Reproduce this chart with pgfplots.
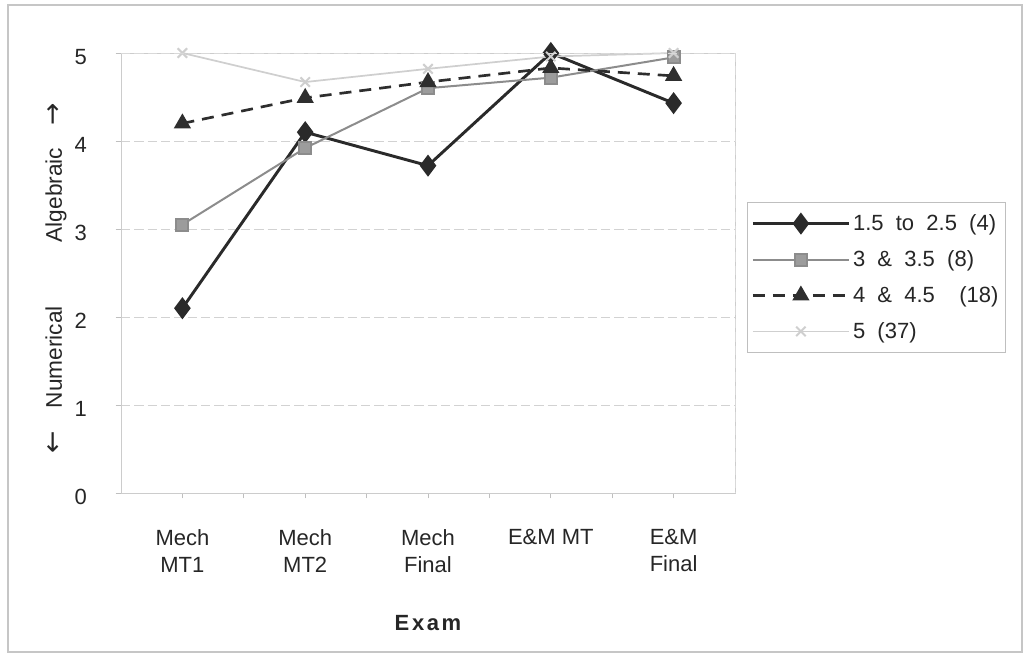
\documentclass[border=0pt]{standalone}
\usepackage{pgfplots}
\pgfplotsset{compat=1.18}
\usepackage{fontspec}
\setmainfont{Liberation Sans}
\newfontfamily\dejavu{DejaVu Sans}
\definecolor{ink}{HTML}{262626}
\definecolor{sone}{HTML}{2A2A2A}
\definecolor{stwo}{HTML}{8C8C8C}
\definecolor{stwofill}{HTML}{9C9C9C}
\definecolor{sthree}{HTML}{2E2E2E}
\definecolor{sfour}{HTML}{CFCFCF}
\begin{document}
\begin{tikzpicture}[x=0.75pt,y=0.75pt]
\useasboundingbox (0,0) rectangle (1029,660);
\draw[gray!45, line width=0.8pt] (8,8) rectangle (1022,655);
\begin{axis}[
  at={(90.75pt,125.25pt)}, anchor=south west,
  scale only axis, width=460.5pt, height=330pt,
  xmin=-0.5, xmax=4.5, ymin=0, ymax=5,
  xtick={0,1,2,3,4},
  xticklabels={{Mech\\MT1},{Mech\\MT2},{Mech\\Final},{E\&M MT},{E\&M\\Final}},
  minor xtick={0.5,1.5,2.5,3.5},
  ytick={0,1,2,3,4,5},
  ymajorgrids,
  major grid style={gray!35, dash pattern=on 7pt off 3pt, line width=0.6pt},
  axis line style={gray!40, line width=0.7pt},
  tick style={gray!50, line width=0.7pt},
  major tick length=4pt, minor tick length=4pt,
  tick align=outside,
  xtick pos=bottom, ytick pos=left,
  xticklabel style={align=center, font=\fontsize{16.5}{20}\selectfont, text=ink, yshift=-20pt},
  yticklabel style={font=\fontsize{16.5}{20}\selectfont, text=ink, xshift=-18pt, yshift=-3pt},
  /pgf/number format/assume math mode=true,
  xlabel={\addfontfeature{LetterSpace=12}\bfseries Exam},
  xlabel style={font=\fontsize{16.5}{20}\selectfont, text=ink, yshift=-25pt},
  legend style={at={(1.0195,0.661)}, anchor=north west, draw=gray!50, line width=0.7pt,
    font=\fontsize{16.5}{20}\selectfont, text=ink, inner xsep=3pt, inner ysep=7pt,
    row sep=9.5pt, cells={anchor=west}},
  legend image code/.code={\draw[mark repeat=2,mark phase=2,#1] plot coordinates {(0pt,0pt) (36pt,0pt) (72pt,0pt)};},
  clip=false,
]
\addplot[sone, line width=2.2pt, mark=diamond*, mark size=6.5pt, mark options={solid, fill=sone}]
  coordinates {(0,2.10) (1,4.10) (2,3.72) (3,5.00) (4,4.43)};
\addlegendentry{1.5\ \ to\ \ 2.5\ \ (4)}
\addplot[stwo, line width=1.5pt, mark=square*, mark size=4.5pt, mark options={solid, fill=stwofill, draw=stwo}]
  coordinates {(0,3.05) (1,3.92) (2,4.60) (3,4.72) (4,4.95)};
\addlegendentry{3\ \ \&\ \ 3.5\ \ (8)}
\addplot[sthree, line width=2pt, dash pattern=on 9pt off 6pt, mark=triangle*, mark size=5.5pt, mark options={solid, fill=sthree}]
  coordinates {(0,4.20) (1,4.49) (2,4.67) (3,4.83) (4,4.74)};
\addlegendentry{4\ \ \&\ \ 4.5\ \ \ \ (18)}
\addplot[sfour, line width=1.3pt, mark=x, mark size=5pt, mark options={solid, line width=1.5pt}]
  coordinates {(0,5.00) (1,4.67) (2,4.82) (3,4.96) (4,5.00)};
\addlegendentry{5\ \ (37)}
\end{axis}
\draw[gray!30, line width=0.6pt, dash pattern=on 7pt off 3pt] (121,607) -- (735,607) -- (735,167);
\node[rotate=90, font=\fontsize{17}{20}\selectfont, text=ink] at (56,382)
  {{\dejavu\fontsize{20}{20}\selectfont ←}\hspace{17pt}Numerical\hspace{48pt}Algebraic\hspace{17pt}{\dejavu\fontsize{20}{20}\selectfont →}};
\end{tikzpicture}
\end{document}
